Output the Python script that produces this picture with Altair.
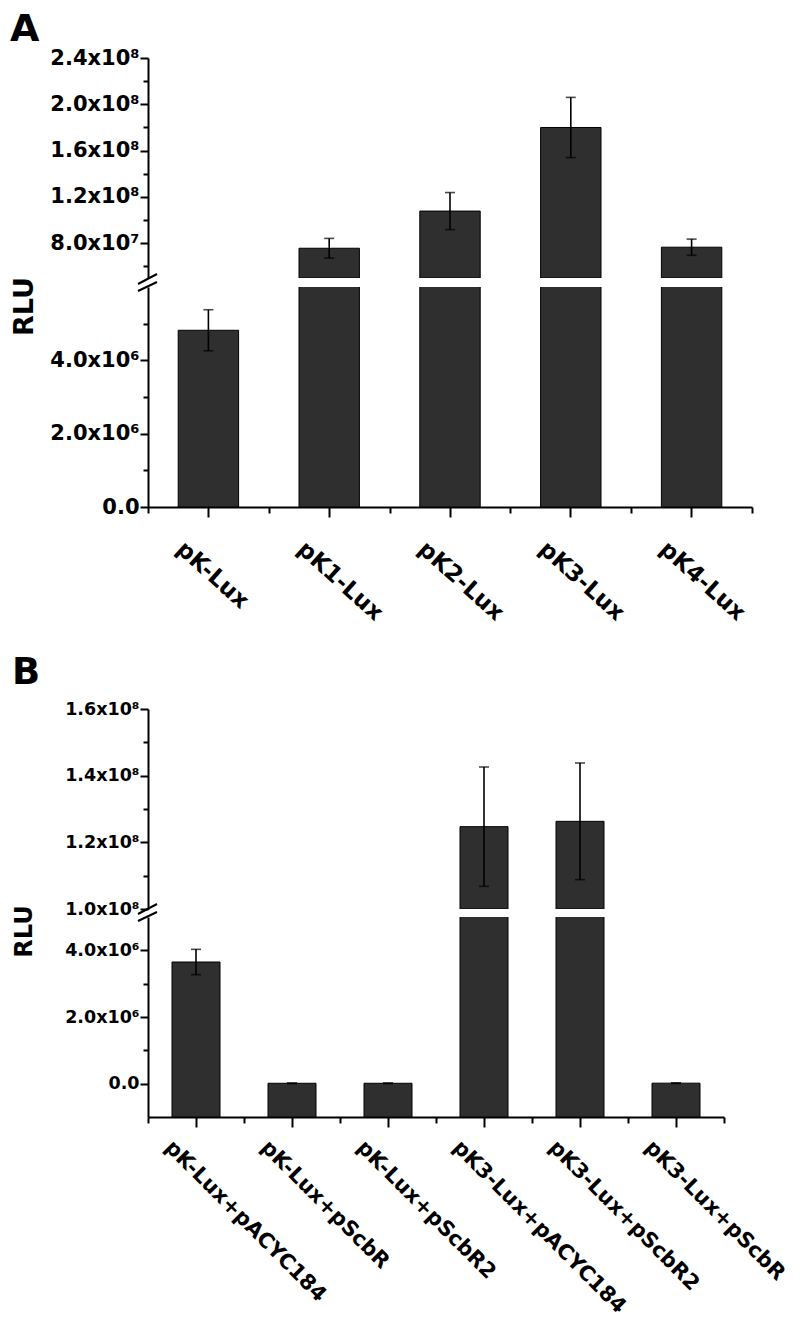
import altair as alt
import pandas as pd

FONT = "DejaVu Sans"

# ---------------- Panel A data ----------------
a_cats = ["pK-Lux", "pK1-Lux", "pK2-Lux", "pK3-Lux", "pK4-Lux"]
a_vals = [4.82e6, 7.57e7, 1.078e8, 1.80e8, 7.66e7]
a_errs = [0.56e6, 8.5e6, 1.6e7, 2.6e7, 7.0e6]

a_up_domain = [5e7, 2.4e8]
a_up_major = [8e7, 1.2e8, 1.6e8, 2.0e8, 2.4e8]
a_up_labels = ["8.0x10⁷", "1.2x10⁸", "1.6x10⁸", "2.0x10⁸", "2.4x10⁸"]
a_up_minor = [6e7, 1.0e8, 1.4e8, 1.8e8, 2.2e8]

a_lo_domain = [0, 6e6]
a_lo_major = [0, 2e6, 4e6]
a_lo_labels = ["0.0", "2.0x10⁶", "4.0x10⁶"]
a_lo_minor = [1e6, 3e6, 5e6]

# ---------------- Panel B data ----------------
b_cats = ["pK-Lux+pACYC184", "pK-Lux+pScbR", "pK-Lux+pScbR2",
          "pK3-Lux+pACYC184", "pK3-Lux+pScbR2", "pK3-Lux+pScbR"]
b_vals = [3.65e6, 1.2e4, 1.2e4, 1.247e8, 1.263e8, 1.5e4]
b_errs = [0.38e6, 1.0e4, 1.0e4, 1.79e7, 1.75e7, 1.0e4]

b_up_domain = [1.0e8, 1.6e8]
b_up_major = [1.0e8, 1.2e8, 1.4e8, 1.6e8]
b_up_labels = ["1.0x10⁸", "1.2x10⁸", "1.4x10⁸", "1.6x10⁸"]
b_up_minor = [1.1e8, 1.3e8, 1.5e8]

b_lo_domain = [-1e6, 5e6]
b_lo_major = [0, 2e6, 4e6]
b_lo_labels = ["0.0", "2.0x10⁶", "4.0x10⁶"]
b_lo_minor = [1e6, 3e6]


def make_df(cats, vals, errs):
    return pd.DataFrame({
        "cat": cats,
        "val": vals,
        "lo": [v - e for v, e in zip(vals, errs)],
        "hi": [v + e for v, e in zip(vals, errs)],
    })


def label_expr(vals, labels):
    expr = "''"
    for v, l in reversed(list(zip(vals, labels))):
        expr = f"abs(datum.value - ({v})) < 1 ? '{l}' : {expr}"
    return expr


def segment(df, cats, domain, major, labels, minor, width, height,
            lower, ylab_size, xlab_size=22, xlab_angle=42, xlab_pad=10, xlab_off=-15,
            title_x=None, title_y=None, title_size=None):
    yscale = alt.Scale(domain=domain, nice=False, zero=False)
    xscale = alt.Scale(domain=cats, paddingInner=0, paddingOuter=0)

    ymaj_kw = dict(orient="left", values=major, labelExpr=label_expr(major, labels),
                   labelFont=FONT, labelFontWeight="bold", labelFontSize=ylab_size,
                   labelPadding=1, tickSize=8, tickWidth=2, domainWidth=2,
                   labelColor="black", tickColor="black", domainColor="black")
    if title_x is not None:
        ymaj_kw.update(title="RLU", titleFont=FONT, titleFontWeight="bold",
                       titleFontSize=title_size, titleX=title_x, titleY=title_y,
                       titleAngle=270, titleAlign="center", titleBaseline="middle",
                       titleColor="black")
    else:
        ymaj_kw.update(title=None)
    y_major = alt.Axis(**ymaj_kw)
    y_minor = alt.Axis(orient="left", values=minor, labels=False, tickSize=5,
                       tickWidth=2, domain=False, title=None, tickColor="black")

    if lower:
        x_major = alt.Axis(orient="bottom", title=None, labelAngle=xlab_angle, labelAlign="left",
                           labelBaseline="top", labelFont=FONT, labelFontWeight="bold",
                           labelFontSize=xlab_size, labelPadding=xlab_pad, labelOffset=xlab_off,
                           labelLimit=600, tickSize=10, tickWidth=2, domainWidth=2,
                           labelColor="black", tickColor="black", domainColor="black")
        x_minor = alt.Axis(orient="bottom", title=None, tickBand="extent", labels=False,
                           tickSize=6, tickWidth=2, domain=False, tickColor="black")
    else:
        x_major = None
        x_minor = None

    base = alt.Chart(df)
    bars = base.transform_filter(alt.datum.val > domain[0]).mark_bar(
        width={"band": 0.5}, clip=True, fill="#2f2f2f",
        stroke="#000000", strokeWidth=1).encode(
        x=alt.X("cat:N", sort=cats, scale=xscale, axis=x_major),
        y=alt.Y("val:Q", scale=yscale, axis=y_major),
        y2=alt.datum(domain[0]),
    )
    err = base.mark_rule(clip=True, color="black", strokeWidth=1.6).encode(
        x=alt.X("cat:N", sort=cats, scale=xscale, axis=x_minor),
        y=alt.Y("lo:Q", scale=yscale, axis=y_minor),
        y2="hi:Q",
    )
    cap_lo = base.mark_tick(clip=True, color="black", thickness=1.6, size=10).encode(
        x=alt.X("cat:N", sort=cats, scale=xscale, axis=None),
        y=alt.Y("lo:Q", scale=yscale, axis=None),
    )
    cap_hi = base.mark_tick(clip=True, color="black", thickness=1.6, size=10).encode(
        x=alt.X("cat:N", sort=cats, scale=xscale, axis=None),
        y=alt.Y("hi:Q", scale=yscale, axis=None),
    )
    layers = [bars, err, cap_lo, cap_hi]
    if lower:
        one = pd.DataFrame({"k": [0]})
        s1 = alt.Chart(one).mark_rule(color="black", strokeWidth=2).encode(
            x=alt.value(-10), x2=alt.value(9), y=alt.value(-3), y2=alt.value(-13))
        s2 = alt.Chart(one).mark_rule(color="black", strokeWidth=2).encode(
            x=alt.value(-10), x2=alt.value(9), y=alt.value(4), y2=alt.value(-5))
        layers += [s1, s2]
    return alt.layer(*layers).resolve_axis(x="independent", y="independent").properties(
        width=width, height=height)


dfa = make_df(a_cats, a_vals, a_errs)
dfb = make_df(b_cats, b_vals, b_errs)

a_up = segment(dfa, a_cats, a_up_domain, a_up_major, a_up_labels, a_up_minor,
               604, 220, False, 21)
a_lo = segment(dfa, a_cats, a_lo_domain, a_lo_major, a_lo_labels, a_lo_minor,
               604, 220, True, 21, xlab_size=23, xlab_angle=42, xlab_pad=20, xlab_off=-21,
               title_x=-124, title_y=19, title_size=27)

b_up = segment(dfb, b_cats, b_up_domain, b_up_major, b_up_labels, b_up_minor,
               576, 200, False, 17.5)
b_lo = segment(dfb, b_cats, b_lo_domain, b_lo_major, b_lo_labels, b_lo_minor,
               576, 200, True, 17.5, xlab_size=21, xlab_angle=45, xlab_pad=9, xlab_off=-20,
               title_x=-124, title_y=14, title_size=24)

panel_a = alt.vconcat(a_up, a_lo, spacing=9, bounds="flush",
                      title=alt.TitleParams("A", anchor="start", fontSize=38, font=FONT,
                                            fontWeight="bold", offset=-2, color="black"))
panel_b = alt.vconcat(b_up, b_lo, spacing=8, bounds="flush",
                      title=alt.TitleParams("B", anchor="start", fontSize=37, font=FONT,
                                            fontWeight="bold", offset=8, color="black"))

chart = alt.vconcat(panel_a, panel_b, spacing=29).properties(
    padding={"left": 2, "top": 3, "right": 0, "bottom": 2}
).configure_view(stroke=None).configure_axis(grid=False)

chart.save("out.html", embed_options={"renderer": "svg", "actions": False})
